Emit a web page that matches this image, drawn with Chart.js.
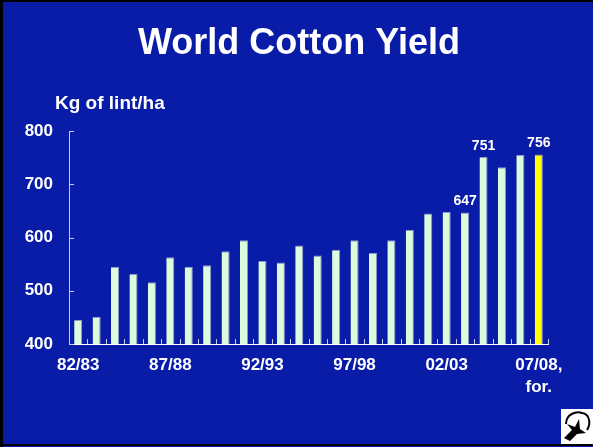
<!DOCTYPE html>
<html>
<head>
<meta charset="utf-8">
<script src="https://cdn.jsdelivr.net/npm/chart.js@4.4.0/dist/chart.umd.min.js"></script>
<style>
    html, body { margin: 0; padding: 0; background: #081ca8; }
    canvas { display: block; }
</style>
</head>
<body>
<canvas id="chart" width="593" height="447"></canvas>
<script>
// world cotton yield, kg of lint per hectare
const seasons = [
    '82/83', '83/84', '84/85', '85/86', '86/87', '87/88', '88/89', '89/90', '90/91',
    '91/92', '92/93', '93/94', '94/95', '95/96', '96/97', '97/98', '98/99', '99/00',
    '00/01', '01/02', '02/03', '03/04', '04/05', '05/06', '06/07', '07/08'
];
const yields = [
    445, 451, 545, 532, 516, 563, 545, 548, 574,
    595, 556, 553, 585, 566, 577, 595, 571, 595,
    614, 645, 648, 647, 751, 732, 755, 756
];
const tickLabels = ['82/83', '87/88', '92/93', '97/98', '02/03', ['07/08,', 'for.']];
const labelledBars = [21, 22, 25];
const forecastIndex = 25;

const FONT = "'Liberation Sans', Arial, sans-serif";
const BG = '#081ca8';
const BAR = '#dcfadc';
const FORECAST = '#ffff00';

const slideDecor = {
    id: 'slideDecor',
    beforeDraw(chart) {
        const ctx = chart.ctx;
        ctx.save();
        ctx.fillStyle = BG;
        ctx.fillRect(0, 0, chart.width, chart.height);
        ctx.restore();
    },
    afterDraw(chart) {
        const ctx = chart.ctx;
        const x = chart.scales.x;
        const y = chart.scales.y;
        const area = chart.chartArea;
        ctx.save();

        // slide frame
        ctx.fillStyle = '#000';
        ctx.fillRect(0, 0, 3, chart.height);
        ctx.fillRect(0, 0, chart.width, 2);
        ctx.fillRect(0, chart.height - 3, chart.width, 2);

        // title + unit
        ctx.fillStyle = '#fff';
        ctx.textAlign = 'center';
        ctx.textBaseline = 'alphabetic';
        ctx.font = 'bold 36px ' + FONT;
        ctx.fillText('World Cotton Yield', 299, 54);
        ctx.textAlign = 'left';
        ctx.font = 'bold 19px ' + FONT;
        ctx.fillText('Kg of lint/ha', 55, 109);

        // inward tick marks
        ctx.strokeStyle = '#c8cce8';
        ctx.lineWidth = 1;
        const step = x.width / seasons.length;
        ctx.beginPath();
        for (let i = 1; i <= seasons.length; i++) {
            const px = Math.round(x.left + i * step) + 0.5;
            ctx.moveTo(px, area.bottom);
            ctx.lineTo(px, area.bottom - 5);
        }
        y.ticks.forEach(t => {
            const py = Math.round(y.getPixelForValue(t.value)) + 0.5;
            ctx.moveTo(area.left, py);
            ctx.lineTo(area.left + 5, py);
        });
        ctx.stroke();

        // value labels
        const meta = chart.getDatasetMeta(0);
        ctx.fillStyle = '#fff';
        ctx.textAlign = 'center';
        ctx.font = 'bold 14px ' + FONT;
        labelledBars.forEach(i => {
            const bar = meta.data[i];
            ctx.fillText(String(yields[i]), bar.x, bar.y - 7);
        });

        // cotton boll logo
        ctx.fillStyle = '#fff';
        ctx.fillRect(561, 409, 32, 35);
        ctx.strokeStyle = '#000';
        ctx.lineWidth = 2;
        ctx.beginPath();
        ctx.moveTo(566, 424);
        ctx.bezierCurveTo(566, 414, 576, 411, 582, 413);
        ctx.bezierCurveTo(590, 414, 591, 424, 587, 430);
        ctx.stroke();
        ctx.fillStyle = '#000';
        ctx.beginPath();
        ctx.moveTo(564, 438);
        ctx.lineTo(572, 430);
        ctx.lineTo(567, 424);
        ctx.lineTo(575, 427);
        ctx.lineTo(579, 419);
        ctx.lineTo(580, 429);
        ctx.lineTo(586, 433);
        ctx.lineTo(577, 434);
        ctx.lineTo(570, 441);
        ctx.closePath();
        ctx.fill();

        ctx.restore();
    }
};

new Chart(document.getElementById('chart'), {
    type: 'bar',
    data: {
        labels: seasons,
        datasets: [{
            data: yields,
            backgroundColor: yields.map((v, i) => i === forecastIndex ? FORECAST : BAR),
            borderColor: '#8e96cc',
            borderWidth: {top: 1, right: 1, left: 0, bottom: 0},
            barPercentage: 0.44,
            categoryPercentage: 1
        }]
    },
    options: {
        responsive: false,
        animation: false,
        devicePixelRatio: 1,
        layout: {padding: {top: 131, right: 45, left: 0, bottom: 0}},
        plugins: {
            legend: {display: false},
            tooltip: {enabled: false},
            title: {display: false}
        },
        scales: {
            x: {
                grid: {display: false, drawTicks: false},
                border: {color: '#ffffff', width: 1},
                ticks: {
                    autoSkip: false,
                    maxRotation: 0,
                    padding: 11,
                    color: '#fff',
                    font: {family: FONT, size: 17, weight: 'bold', lineHeight: 1.25},
                    callback: (v, i) => i % 5 === 0 ? tickLabels[i / 5] : ''
                },
                afterFit: scale => { scale.height = 103; }
            },
            y: {
                min: 400,
                max: 800,
                grid: {display: false, drawTicks: false},
                border: {color: '#c8cce8', width: 1},
                ticks: {
                    stepSize: 100,
                    padding: 16,
                    color: '#fff',
                    font: {family: FONT, size: 17, weight: 'bold'}
                },
                afterFit: scale => { scale.width = 69; }
            }
        }
    },
    plugins: [slideDecor]
});
</script>
</body>
</html>
